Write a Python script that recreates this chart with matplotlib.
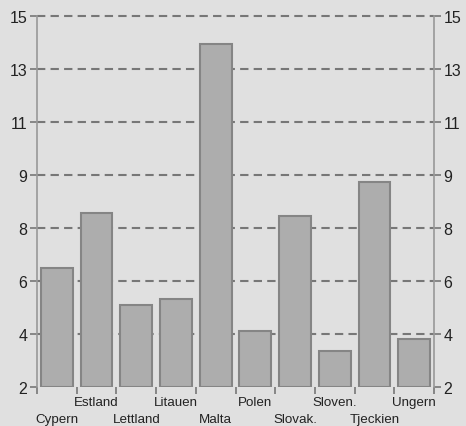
import numpy as np
import matplotlib
matplotlib.use("Agg")
import matplotlib.pyplot as plt
from matplotlib.transforms import blended_transform_factory

# country values
countries = ["Cypern", "Estland", "Lettland", "Litauen", "Malta",
             "Polen", "Slovak.", "Sloven.", "Tjeckien", "Ungern"]
values = [6.18, 8.10, 4.88, 5.09, 14.01, 3.98, 7.99, 3.28, 9.18, 3.68]

# axis range, eight evenly spaced ticks shown as rounded integers
y_min, y_max = 2, 15
y_ticks = np.linspace(y_min, y_max, 8)
y_labels = [f"{t:.0f}" for t in y_ticks]

bg = "#e0e0e0"
plt.rcParams["font.family"] = ["Liberation Sans", "DejaVu Sans"]

fig = plt.figure(figsize=(4.66, 4.27), dpi=100, facecolor=bg)
ax = fig.add_axes([37 / 466, (427 - 388.4) / 427, (434 - 37) / 466, (388.4 - 16.7) / 427])
ax.set_facecolor(bg)

x = np.arange(len(countries))
ax.bar(x, np.array(values) - y_min, bottom=y_min, width=0.8,
       color="#adadad", edgecolor="#858585", linewidth=1.5, zorder=3)

for t in y_ticks[1:]:
    ax.axhline(t, color="#777777", linestyle=(0, (4, 2.5)), linewidth=1.5,
               zorder=1, clip_on=False)

ax.set_xlim(-0.5, len(countries) - 0.5)
ax.set_ylim(y_min, y_max)
ax.set_yticks(y_ticks)
ax.set_yticklabels(y_labels)

for side in ["top", "bottom"]:
    ax.spines[side].set_visible(False)
for side in ["left", "right"]:
    ax.spines[side].set_color("#999999")
    ax.spines[side].set_linewidth(1.2)

ax.tick_params(axis="y", left=True, right=True, labelleft=True, labelright=True,
               length=5, width=1.2, color="#777777", labelsize=11.5,
               labelcolor="#222222", pad=2)

# boundary ticks between the bars, labels staggered in two rows
ax.set_xticks(np.arange(-0.5, len(countries)), minor=False)
ax.set_xticklabels([])
ax.tick_params(axis="x", length=5, width=1.2, color="#777777")

trans = blended_transform_factory(ax.transData, ax.transAxes)
for i, name in enumerate(countries):
    y_off = -0.024 if i % 2 else -0.068
    ax.text(i, y_off, name, transform=trans, ha="center", va="top",
            fontsize=9.6, color="#222222")

fig.savefig("out.png", dpi=100, facecolor=bg)
